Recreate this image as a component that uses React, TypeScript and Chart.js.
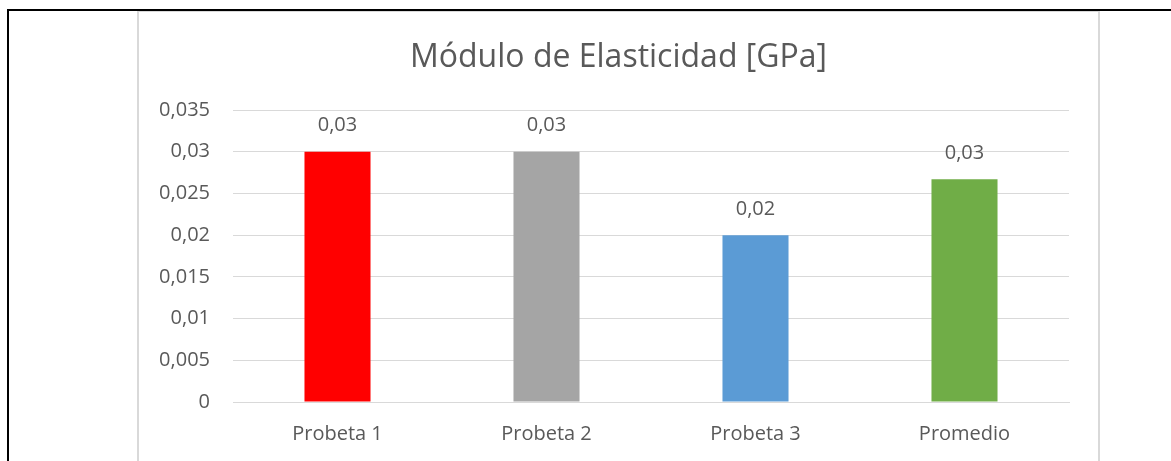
import React, { useEffect, useRef } from "react";
import { Chart, registerables } from "chart.js";

Chart.register(...registerables);

const categories = ["Probeta 1", "Probeta 2", "Probeta 3", "Promedio"];
const values = [0.03, 0.03, 0.02, 0.0267];
const barColors = ["#FF0000", "#A5A5A5", "#5B9BD5", "#70AD47"];
const titleText = "Módulo de Elasticidad [GPa]";

const FONT = "'Open Sans', 'DejaVu Sans', sans-serif";
const TEXT = "#595959";

const framePlugin = {
  id: "frame",
  beforeDraw(chart: any) {
    const ctx = chart.ctx;
    ctx.save();
    ctx.fillStyle = "#FFFFFF";
    ctx.fillRect(0, 0, chart.width, chart.height);
    ctx.fillStyle = "#000000";
    ctx.fillRect(7, 9, chart.width - 7, 2);
    ctx.fillRect(7, 9, 2, chart.height - 9);
    ctx.fillStyle = "#D9D9D9";
    ctx.fillRect(137, 11, 1099 - 137 + 1, 1);
    ctx.fillRect(137, 11, 2, chart.height - 11);
    ctx.fillRect(1098, 11, 2, chart.height - 11);
    // title centred on the chart box
    ctx.font = `32px ${FONT}`;
    ctx.fillStyle = TEXT;
    ctx.textAlign = "center";
    ctx.textBaseline = "alphabetic";
    ctx.fillText(titleText, (138 + 1099) / 2, 67);
    ctx.restore();
  },
};

const labelPlugin = {
  id: "barLabels",
  afterDatasetsDraw(chart: any) {
    const ctx = chart.ctx;
    const meta = chart.getDatasetMeta(0);
    ctx.save();
    ctx.font = `20px ${FONT}`;
    ctx.fillStyle = TEXT;
    ctx.textAlign = "center";
    ctx.textBaseline = "middle";
    meta.data.forEach((bar: any, i: number) => {
      const v = values[i];
      ctx.fillText(v.toFixed(2).replace(".", ","), bar.x, bar.y - 26);
    });
    ctx.restore();
  },
};

export default function App() {
  const ref = useRef<HTMLCanvasElement | null>(null);
  useEffect(() => {
    if (!ref.current) return;
    const chart = new Chart(ref.current, {
      type: "bar",
      data: {
        labels: categories,
        datasets: [
          {
            data: values,
            backgroundColor: barColors,
            barPercentage: 0.632,
            categoryPercentage: 0.5,
          },
        ],
      },
      options: {
        responsive: false,
        animation: false,
        layout: { padding: { left: 138, right: 102, top: 110, bottom: 0 } },
        plugins: {
          legend: { display: false },
          tooltip: { enabled: false },
          title: { display: false },
        },
        scales: {
          x: {
            grid: { display: false, drawTicks: false },
            border: { display: true, color: "#D9D9D9", width: 1 },
            ticks: {
              color: TEXT,
              font: { family: FONT, size: 20 },
              padding: 20,
            },
            afterFit(scale: any) {
              scale.height = 59;
            },
          },
          y: {
            min: 0,
            max: 0.035,
            grid: { color: "#D9D9D9", lineWidth: 1, drawTicks: false },
            border: { display: false },
            ticks: {
              stepSize: 0.005,
              color: TEXT,
              font: { family: FONT, size: 20 },
              padding: 23,
              callback: (v: any) => String(Number(Number(v).toFixed(3))).replace(".", ","),
            },
            afterFit(scale: any) {
              scale.width = 95;
            },
          },
        },
      },
      plugins: [framePlugin, labelPlugin],
    });
    return () => chart.destroy();
  }, []);
  return (
    <div style={{ position: "absolute", left: 0, top: 0, width: 1171, height: 461, background: "#fff" }}>
      <canvas ref={ref} width={1171} height={461} style={{ width: 1171, height: 461, display: "block" }} />
    </div>
  );
}
